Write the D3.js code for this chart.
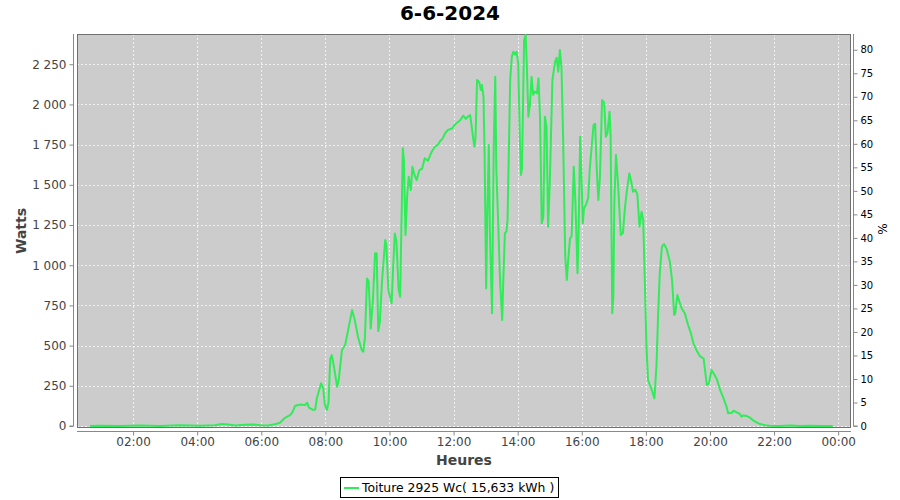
<!DOCTYPE html>
<html><head><meta charset="utf-8">
<script src="https://cdn.jsdelivr.net/npm/d3@7"></script>
<style>
html,body{margin:0;padding:0;background:#fff;}
svg{display:block;font-family:"DejaVu Sans",sans-serif;}
</style></head>
<body><svg id="c" width="900" height="500"></svg>
<script>
const title = "6-6-2024";
const seriesName = "Toiture 2925 Wc( 15,633 kWh )";
const peakPower = 2925;
const times = ["00:39","00:58","01:35","02:13","02:50","03:28","04:05","04:33","04:46","04:58","05:11","05:30","05:43","05:58","06:13","06:20","06:27","06:35","06:44","06:54","06:59","07:03","07:09","07:16","07:22","07:26","07:29","07:37","07:41","07:44","07:52","07:56","07:59","08:03","08:06","08:09","08:12","08:16","08:22","08:25","08:31","08:37","08:42","08:50","08:55","09:01","09:08","09:11","09:14","09:18","09:21","09:25","09:29","09:33","09:36","09:39","09:42","09:46","09:52","09:54","09:58","10:04","10:07","10:10","10:13","10:17","10:20","10:21","10:25","10:27","10:30","10:33","10:36","10:40","10:43","10:47","10:51","10:56","11:01","11:06","11:12","11:19","11:25","11:31","11:34","11:40","11:44","11:49","11:57","12:04","12:12","12:18","12:23","12:27","12:31","12:34","12:37","12:39","12:41","12:44","12:48","12:51","12:53","12:56","12:58","13:01","13:03","13:06","13:08","13:12","13:15","13:18","13:20","13:24","13:27","13:31","13:33","13:36","13:39","13:41","13:46","13:49","13:52","13:55","13:58","14:01","14:04","14:06","14:08","14:11","14:12","14:15","14:17","14:20","14:23","14:26","14:29","14:32","14:36","14:39","14:42","14:45","14:48","14:51","14:54","14:57","15:00","15:05","15:10","15:13","15:16","15:19","15:22","15:25","15:29","15:32","15:35","15:38","15:41","15:45","15:48","15:52","15:54","15:57","15:59","16:02","16:04","16:09","16:12","16:15","16:22","16:25","16:28","16:31","16:34","16:38","16:42","16:45","16:48","16:52","16:54","16:57","16:59","17:01","17:04","17:08","17:13","17:17","17:21","17:25","17:29","17:32","17:36","17:40","17:44","17:48","17:52","17:55","17:58","18:01","18:04","18:11","18:16","18:20","18:23","18:26","18:30","18:34","18:39","18:45","18:49","18:53","18:55","18:59","19:03","19:07","19:13","19:19","19:24","19:29","19:35","19:41","19:48","19:51","19:54","19:58","20:03","20:08","20:13","20:19","20:25","20:31","20:34","20:41","20:44","20:50","20:56","20:59","21:02","21:09","21:15","21:20","21:28","21:34","21:43","21:52","22:11","22:30","22:49","23:07","23:26","23:50"];
const watts = [0,2,0,3,0,4,2,5,12,10,3,8,10,4,3,8,12,20,50,68,89,124,131,133,131,145,114,100,102,172,265,234,131,100,150,415,441,369,244,286,473,504,586,721,659,555,473,462,545,918,900,607,784,1074,1074,590,650,900,1157,1130,846,763,1000,1198,1150,850,804,1000,1727,1650,1188,1426,1550,1468,1613,1560,1530,1592,1600,1665,1650,1706,1737,1750,1768,1790,1820,1840,1850,1880,1900,1930,1910,1925,1934,1860,1779,1737,1790,2152,2140,2090,2121,2048,1700,856,1300,1748,1200,701,1700,2172,1600,1219,900,659,900,1198,1210,1281,2152,2297,2328,2310,2328,2256,1800,1561,1600,2200,2400,2432,2250,1924,2000,2172,2060,2080,2069,2162,1900,1261,1300,1924,1860,1240,1500,2152,2266,2290,2204,2339,2230,1800,1053,908,1050,1167,1180,1613,1400,950,1200,1799,1600,1261,1350,1385,1420,1600,1872,1880,1600,1406,1550,2027,2010,1799,1820,1955,1800,701,800,1400,1685,1500,1188,1200,1364,1480,1571,1530,1457,1470,1440,1240,1333,1280,908,500,286,224,172,390,701,950,1115,1132,1100,1020,908,690,700,815,770,732,700,628,580,514,470,435,420,340,255,265,348,320,290,224,175,120,79,82,95,85,75,58,65,62,52,37,21,12,5,2,0,3,0,2,0,0];
const yTicks = [0,250,500,750,1000,1250,1500,1750,2000,2250];
const pctTicks = [0,5,10,15,20,25,30,35,40,45,50,55,60,65,70,75,80];
const xTickLabels = ["02:00","04:00","06:00","08:00","10:00","12:00","14:00","16:00","18:00","20:00","22:00","00:00"];

const parse = s => { const [h,m] = s.split(":").map(Number); return new Date(2024,5,6,h,m); };
const data = times.map((t,i)=>({t:parse(t), w:watts[i]}));
const xTickDates = xTickLabels.map((s,i)=>new Date(2024,5,6,2*(i+1),0));

const L=77, R=851, T=34, B=428;
const svg = d3.select("#c");
const x = d3.scaleTime().domain([new Date(2024,5,6,0,15), new Date(2024,5,7,0,24)]).range([L,R]);
const y = d3.scaleLinear().domain([-12.4, 2438]).range([B,T]);
const yp = d3.scaleLinear().domain([-12.4/peakPower*100, 2438/peakPower*100]).range([B,T]);

svg.append("rect").attr("x",L).attr("y",T).attr("width",R-L).attr("height",B-T).attr("fill","#cccccc");
// grid
svg.append("g").selectAll("line").data(xTickDates).join("line")
  .attr("x1",d=>Math.round(x(d))+0.5).attr("x2",d=>Math.round(x(d))+0.5).attr("y1",T).attr("y2",B)
  .attr("stroke","#f2f2f2").attr("stroke-width",1).attr("stroke-dasharray","2,2");
svg.append("g").selectAll("line").data(yTicks).join("line")
  .attr("y1",d=>Math.round(y(d))+0.5).attr("y2",d=>Math.round(y(d))+0.5).attr("x1",L).attr("x2",R)
  .attr("stroke","#f2f2f2").attr("stroke-width",1).attr("stroke-dasharray","2,2");
svg.append("rect").attr("x",L+0.5).attr("y",T+0.5).attr("width",R-L-1).attr("height",B-T-1).attr("fill","none").attr("stroke","#707070");

// line
svg.append("path").datum(data)
  .attr("d", d3.line().x(d=>x(d.t)).y(d=>y(d.w)))
  .attr("fill","none").attr("stroke","#30ec58").attr("stroke-width",2).attr("stroke-linejoin","round");

// left axis
const ga = svg.append("g").attr("transform","translate(73.5,0)");
ga.call(d3.axisLeft(y).tickValues(yTicks).tickSize(4).tickPadding(3).tickFormat(d=>d3.format(",")(d).replace(/,/g," ")));
ga.select(".domain").attr("d",`M-4,${y(0)}H0V${T}`).attr("stroke","#888");
ga.selectAll(".tick line").attr("stroke","#888");
ga.selectAll("text").attr("fill","#444").attr("font-size",12).attr("font-family","DejaVu Sans");

// right axis
const gr = svg.append("g").attr("transform","translate(853.5,0)");
gr.call(d3.axisRight(yp).tickValues(pctTicks).tickSize(4).tickPadding(3));
gr.select(".domain").attr("d",`M4,${yp(0)}H0V${T}`).attr("stroke","#888");
gr.selectAll(".tick line").attr("stroke","#888");
gr.selectAll("text").attr("fill","#000").attr("font-size",10).attr("font-family","DejaVu Sans");

// bottom axis
const gb = svg.append("g").attr("transform","translate(0,431.5)");
gb.call(d3.axisBottom(x).tickValues(xTickDates).tickSize(4).tickPadding(2).tickFormat((d,i)=>xTickLabels[i]));
gb.select(".domain").attr("d",`M${L},0H${R}`).attr("stroke","#888");
gb.selectAll(".tick line").attr("stroke","#888");
gb.selectAll("text").attr("fill","#444").attr("font-size",12).attr("font-family","DejaVu Sans");

// titles
svg.append("text").attr("x",450).attr("y",20).attr("text-anchor","middle").attr("font-size",20).attr("font-weight","bold").attr("fill","#000").text(title);
svg.append("text").attr("x",(L+R)/2).attr("y",465).attr("text-anchor","middle").attr("font-size",14).attr("font-weight","bold").attr("fill","#444").text("Heures");
svg.append("text").attr("transform","translate(26,231) rotate(-90)").attr("text-anchor","middle").attr("font-size",14).attr("font-weight","bold").attr("fill","#444").text("Watts");
svg.append("text").attr("transform","translate(887,229) rotate(-90)").attr("text-anchor","middle").attr("font-size",12).attr("fill","#000").text("%");

// legend
const lg = svg.append("g");
lg.append("rect").attr("x",340.5).attr("y",477.5).attr("width",218).attr("height",20).attr("fill","#fff").attr("stroke","#000");
lg.append("line").attr("x1",344).attr("x2",359).attr("y1",488).attr("y2",488).attr("stroke","#30ec58").attr("stroke-width",2);
lg.append("text").attr("x",362).attr("y",492).attr("font-size",12.4).attr("fill","#000").text(seriesName);
</script></body></html>
